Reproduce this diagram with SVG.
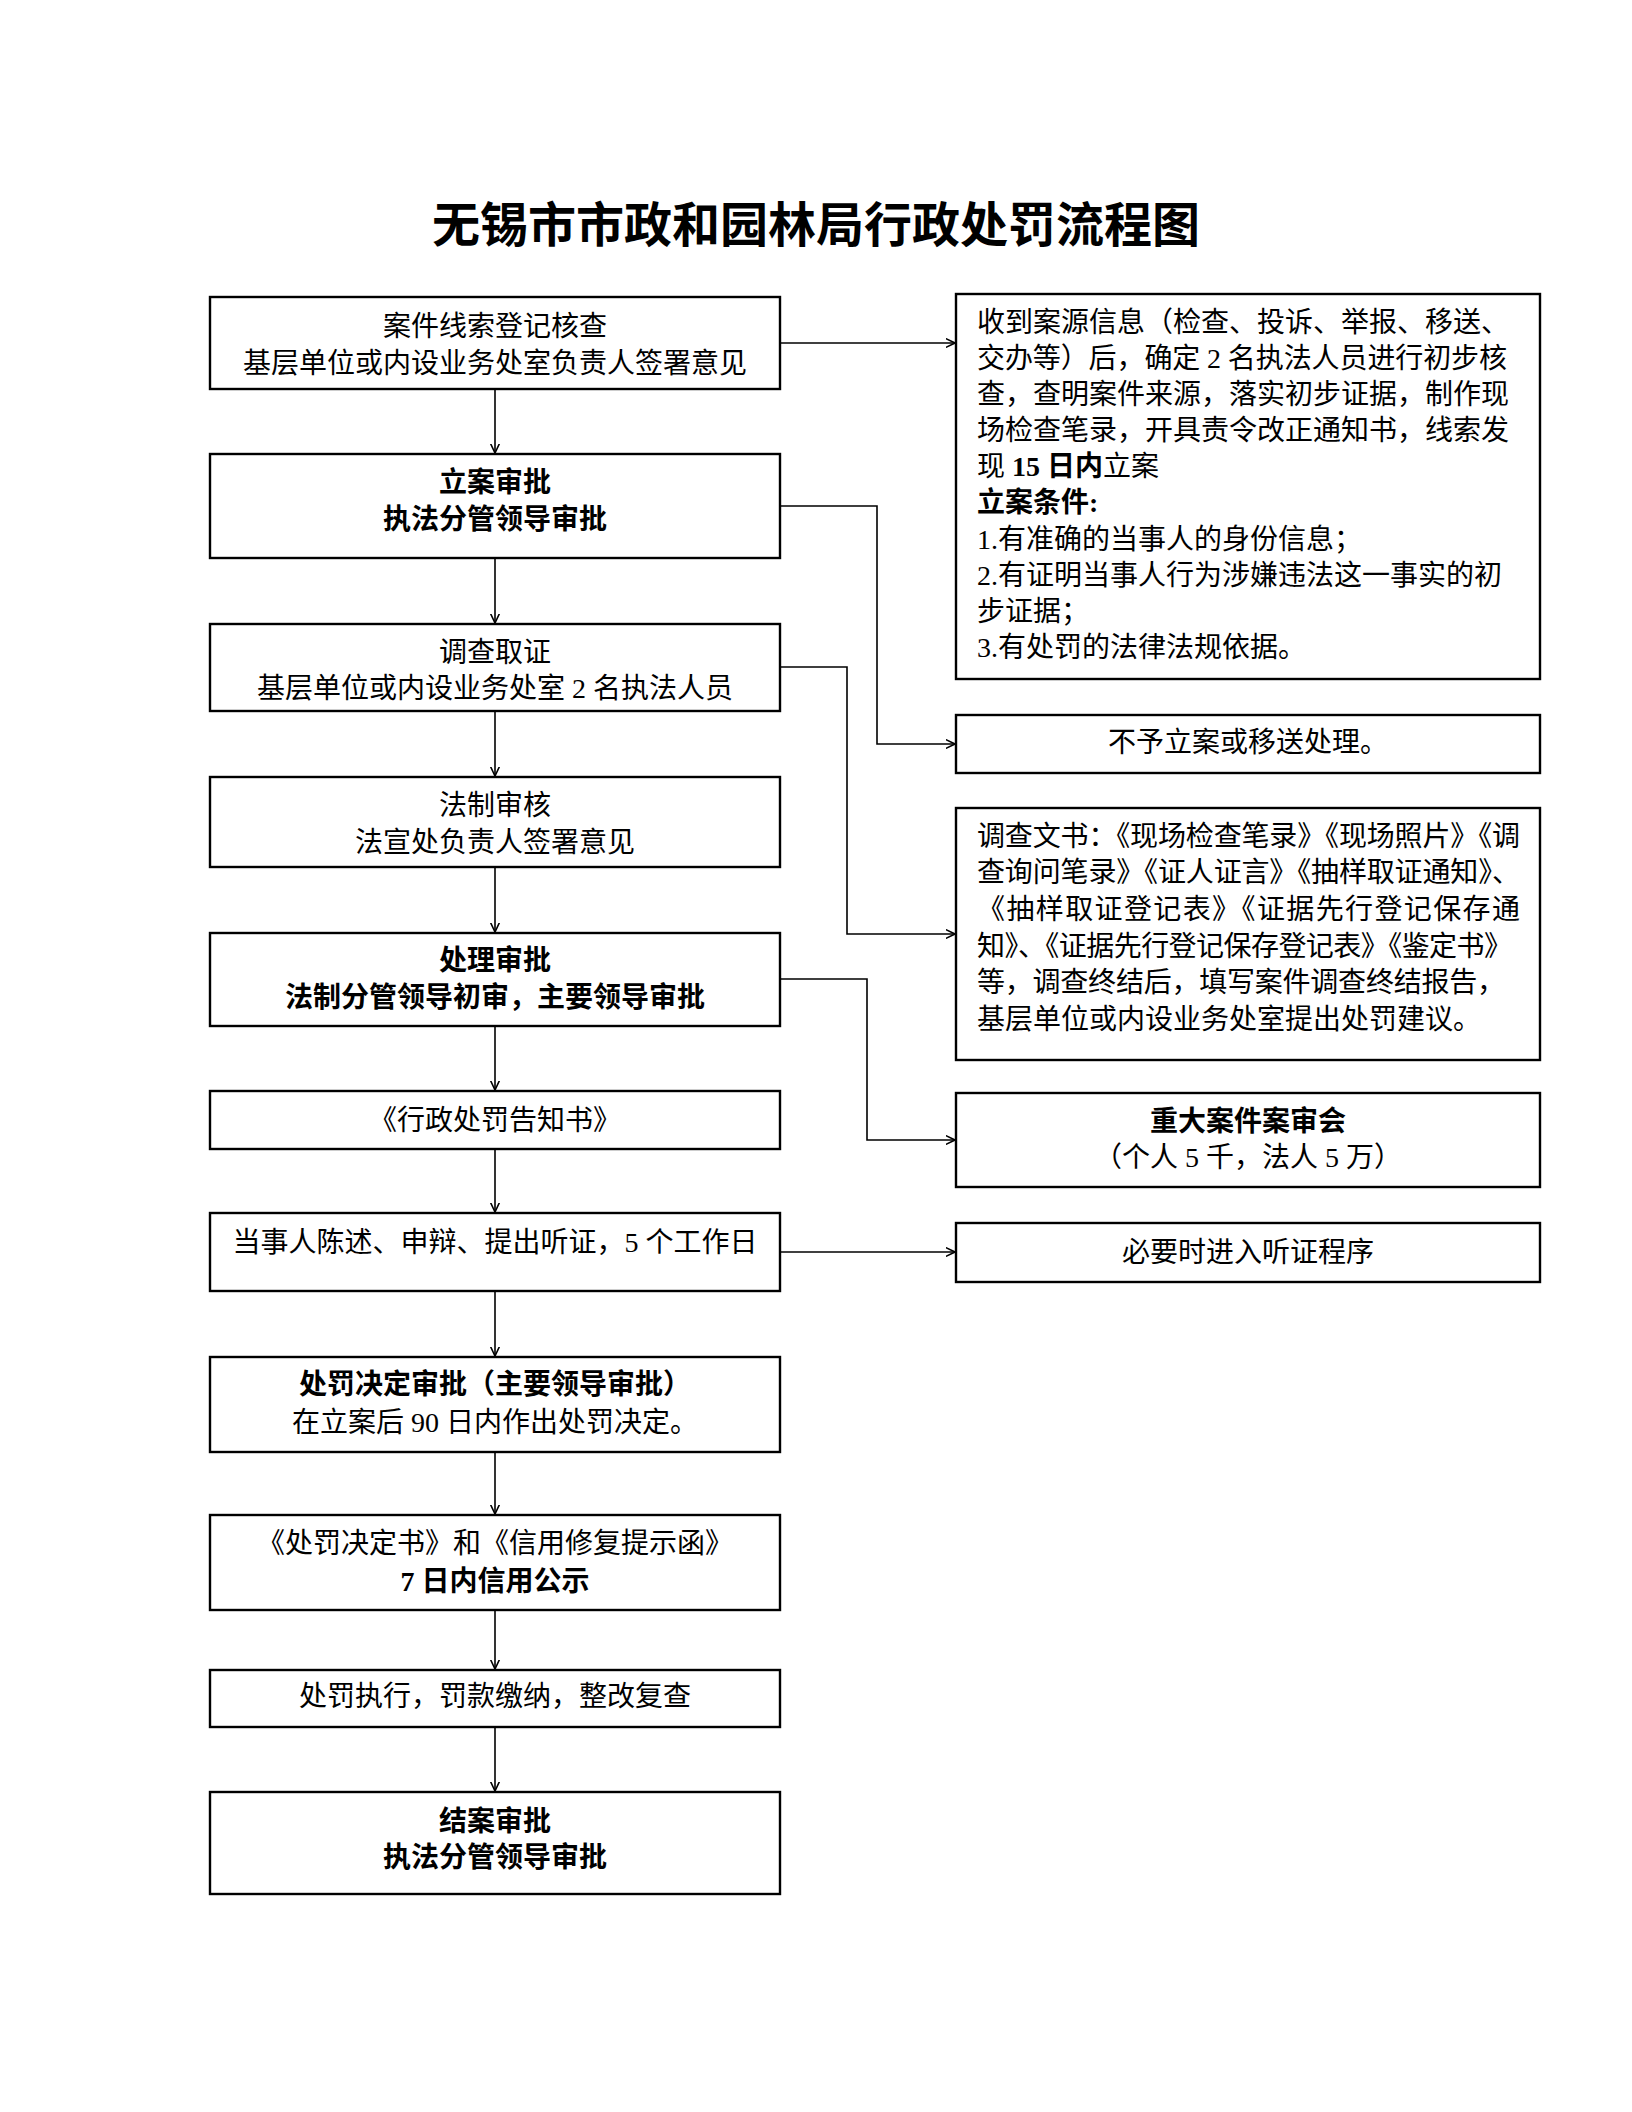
<svg xmlns="http://www.w3.org/2000/svg" width="1632" height="2112" viewBox="0 0 1632 2112">
<style>
.box{fill:#fff;stroke:#000;stroke-width:2.4}
.t{font-family:"Liberation Serif","Noto Sans CJK SC",serif;font-size:28px;fill:#000}
.c{text-anchor:middle}
.b{font-weight:bold}
.title{font-family:"Liberation Serif","Noto Sans CJK SC",serif;font-size:48px;font-weight:bold;text-anchor:middle}
.ln{fill:none;stroke:#000;stroke-width:1.6}
</style>
<defs>
<marker id="arr" viewBox="0 0 10 10" refX="9.5" refY="5" markerWidth="10" markerHeight="10" markerUnits="userSpaceOnUse" orient="auto">
<path d="M0,0.5 L9.5,5 L0,9.5" fill="none" stroke="#000" stroke-width="1.6"/>
</marker>
</defs>
<rect width="1632" height="2112" fill="#fff"/>
<text class="title" x="816" y="242">无锡市市政和园林局行政处罚流程图</text>

<g id="connectors">
<path class="ln" marker-end="url(#arr)" d="M495,389 V453"/>
<path class="ln" marker-end="url(#arr)" d="M495,558 V623"/>
<path class="ln" marker-end="url(#arr)" d="M495,711 V776"/>
<path class="ln" marker-end="url(#arr)" d="M495,867 V932"/>
<path class="ln" marker-end="url(#arr)" d="M495,1026 V1090"/>
<path class="ln" marker-end="url(#arr)" d="M495,1149 V1212"/>
<path class="ln" marker-end="url(#arr)" d="M495,1291 V1356"/>
<path class="ln" marker-end="url(#arr)" d="M495,1452 V1514"/>
<path class="ln" marker-end="url(#arr)" d="M495,1610 V1669"/>
<path class="ln" marker-end="url(#arr)" d="M495,1727 V1791"/>
<path class="ln" marker-end="url(#arr)" d="M780,343 H955"/>
<path class="ln" marker-end="url(#arr)" d="M780,506 H877 V744 H955"/>
<path class="ln" marker-end="url(#arr)" d="M780,667 H847 V934 H955"/>
<path class="ln" marker-end="url(#arr)" d="M780,979 H867 V1140 H955"/>
<path class="ln" marker-end="url(#arr)" d="M780,1252 H955"/>
</g>

<g id="n1"><rect class="box" x="210" y="297" width="570" height="92"/>
<text class="t c" x="495" y="336">案件线索登记核查</text>
<text class="t c" x="495" y="373">基层单位或内设业务处室负责人签署意见</text></g>

<g id="n2"><rect class="box" x="210" y="454" width="570" height="104"/>
<text class="t c b" x="495" y="492">立案审批</text>
<text class="t c b" x="495" y="529">执法分管领导审批</text></g>

<g id="n3"><rect class="box" x="210" y="624" width="570" height="87"/>
<text class="t c" x="495" y="662">调查取证</text>
<text class="t c" x="495" y="698">基层单位或内设业务处室 2 名执法人员</text></g>

<g id="n4"><rect class="box" x="210" y="777" width="570" height="90"/>
<text class="t c" x="495" y="815">法制审核</text>
<text class="t c" x="495" y="852">法宣处负责人签署意见</text></g>

<g id="n5"><rect class="box" x="210" y="933" width="570" height="93"/>
<text class="t c b" x="495" y="970">处理审批</text>
<text class="t c b" x="495" y="1007">法制分管领导初审，主要领导审批</text></g>

<g id="n6"><rect class="box" x="210" y="1091" width="570" height="58"/>
<text class="t c" x="495" y="1130">《行政处罚告知书》</text></g>

<g id="n7"><rect class="box" x="210" y="1213" width="570" height="78"/>
<text class="t c" x="495" y="1252">当事人陈述、申辩、提出听证，5 个工作日</text></g>

<g id="n8"><rect class="box" x="210" y="1357" width="570" height="95"/>
<text class="t c b" x="495" y="1394">处罚决定审批（主要领导审批）</text>
<text class="t c" x="495" y="1432">在立案后 90 日内作出处罚决定。</text></g>

<g id="n9"><rect class="box" x="210" y="1515" width="570" height="95"/>
<text class="t c" x="495" y="1553">《处罚决定书》和《信用修复提示函》</text>
<text class="t c b" x="495" y="1591">7 日内信用公示</text></g>

<g id="n10"><rect class="box" x="210" y="1670" width="570" height="57"/>
<text class="t c" x="495" y="1706">处罚执行，罚款缴纳，整改复查</text></g>

<g id="n11"><rect class="box" x="210" y="1792" width="570" height="102"/>
<text class="t c b" x="495" y="1831">结案审批</text>
<text class="t c b" x="495" y="1867">执法分管领导审批</text></g>

<g id="r1"><rect class="box" x="956" y="294" width="584" height="385"/>
<text class="t" x="977" y="332">收到案源信息（检查、投诉、举报、移送、</text>
<text class="t" x="977" y="368" textLength="530" lengthAdjust="spacing">交办等）后，确定 2 名执法人员进行初步核</text>
<text class="t" x="977" y="404">查，查明案件来源，落实初步证据，制作现</text>
<text class="t" x="977" y="440">场检查笔录，开具责令改正通知书，线索发</text>
<text class="t" x="977" y="476">现<tspan class="b"> 15 日内</tspan>立案</text>
<text class="t b" x="977" y="512">立案条件:</text>
<text class="t" x="977" y="549">1.有准确的当事人的身份信息；</text>
<text class="t" x="977" y="585">2.有证明当事人行为涉嫌违法这一事实的初</text>
<text class="t" x="977" y="621">步证据；</text>
<text class="t" x="977" y="657">3.有处罚的法律法规依据。</text></g>

<g id="r2"><rect class="box" x="956" y="715" width="584" height="58"/>
<text class="t c" x="1248" y="752">不予立案或移送处理。</text></g>

<g id="r3"><rect class="box" x="956" y="808" width="584" height="252"/>
<text class="t" x="977" y="846" textLength="543" lengthAdjust="spacing">调查文书：《现场检查笔录》《现场照片》《调</text>
<text class="t" x="977" y="882" textLength="543" lengthAdjust="spacing">查询问笔录》《证人证言》《抽样取证通知》、</text>
<text class="t" x="977" y="919" textLength="543" lengthAdjust="spacing">《抽样取证登记表》《证据先行登记保存通</text>
<text class="t" x="977" y="956" textLength="535" lengthAdjust="spacing">知》、《证据先行登记保存登记表》《鉴定书》</text>
<text class="t" x="977" y="992" textLength="528" lengthAdjust="spacing">等，调查终结后，填写案件调查终结报告，</text>
<text class="t" x="977" y="1029">基层单位或内设业务处室提出处罚建议。</text></g>

<g id="r4"><rect class="box" x="956" y="1093" width="584" height="94"/>
<text class="t c b" x="1248" y="1131">重大案件案审会</text>
<text class="t c" x="1248" y="1167">（个人 5 千，法人 5 万）</text></g>

<g id="r5"><rect class="box" x="956" y="1223" width="584" height="59"/>
<text class="t c" x="1248" y="1262">必要时进入听证程序</text></g>
</svg>
